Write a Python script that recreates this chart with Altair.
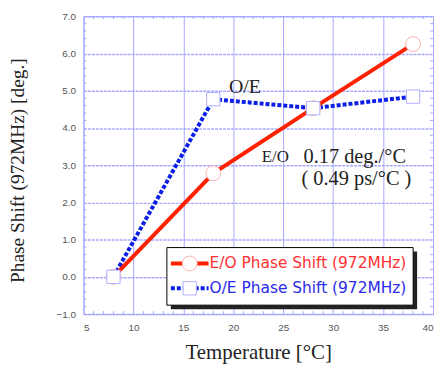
import altair as alt
import pandas as pd

# ---- data ----
temps = [8, 18, 28, 38]
eo_shift = [0.0, 2.78, 4.53, 6.25]
oe_shift = [0.0, 4.77, 4.53, 4.84]
x_ticks = [5, 10, 15, 20, 25, 30, 35, 40]
y_ticks = [-1, 0, 1, 2, 3, 4, 5, 6, 7]
x_minor = [v for v in range(6, 40) if v % 5 != 0]
y_minor = [round(-1 + 0.2 * i, 1) for i in range(1, 40) if i % 5 != 0]

ann_text = ["O/E", "E/O", "0.17 deg./°C", "( 0.49 ps/°C )"]
ann_x = [19.56, 22.85, 27.03, 26.83]
ann_y = [4.95, 3.08, 3.06, 2.47]
ann_fs = [20, 17, 20.5, 20.5]

legend_labels = ["E/O Phase Shift (972MHz)", "O/E Phase Shift (972MHz)"]

eo = pd.DataFrame({"t": temps, "v": eo_shift})
oe = pd.DataFrame({"t": temps, "v": oe_shift})
ann = pd.DataFrame({"x": ann_x, "y": ann_y, "text": ann_text, "fs": ann_fs})
xm = pd.DataFrame({"x": x_minor})
ym = pd.DataFrame({"y": y_minor})
one = pd.DataFrame({"a": [0]})

W, H = 352, 300
RED = "#ff2200"
BLUE = "#0a1ee8"
GRID = "#a8a8ff"

xs = alt.Scale(domain=[5, 40], nice=False, zero=False)
ys = alt.Scale(domain=[-1, 7], nice=False, zero=False)

xaxis = alt.Axis(values=x_ticks, format="d", title="Temperature [°C]",
                 grid=True, gridColor=GRID, gridWidth=1, gridOpacity=1,
                 domain=False, ticks=False, labelPadding=9, labelOverlap=False,
                 labelFont="Liberation Sans", labelFontSize=10, labelColor="#555",
                 titleFont="Liberation Serif", titleFontSize=21, titleFontWeight="normal",
                 titleColor="#222", titleX=176, titleY=45, titleBaseline="alphabetic")
yaxis = alt.Axis(values=y_ticks, format=".1f", title="Phase Shift (972MHz)  [deg.]",
                 grid=True, gridColor=GRID, gridWidth=1.5, gridDash=[3, 1], gridOpacity=1,
                 domain=False, ticks=False, labelPadding=8, labelOverlap=False,
                 labelFont="Liberation Sans", labelFontSize=10, labelColor="#555",
                 titleFont="Liberation Serif", titleFontSize=19.5, titleFontWeight="normal",
                 titleColor="#222", titleX=-60, titleY=155, titleAngle=-90,
                 titleAlign="center", titleBaseline="alphabetic")


def X(f):
    return alt.X(f, scale=xs, axis=xaxis)


def Y(f):
    return alt.Y(f, scale=ys, axis=yaxis)


grid = alt.Chart(eo).mark_point(opacity=0).encode(x=X("t:Q"), y=Y("v:Q"))

# minor ticks pointing inward
xm_bot = alt.Chart(xm).mark_rule(color=GRID, strokeWidth=1).encode(
    x=X("x:Q"), y=alt.value(H), y2=alt.value(H - 3))
xm_top = alt.Chart(xm).mark_rule(color=GRID, strokeWidth=1).encode(
    x=X("x:Q"), y=alt.value(0), y2=alt.value(3))
ym_l = alt.Chart(ym).mark_rule(color=GRID, strokeWidth=1).encode(
    y=Y("y:Q"), x=alt.value(0), x2=alt.value(3))
ym_r = alt.Chart(ym).mark_rule(color=GRID, strokeWidth=1).encode(
    y=Y("y:Q"), x=alt.value(W), x2=alt.value(W - 3))

oe_line = alt.Chart(oe).mark_line(color=BLUE, strokeWidth=4, strokeDash=[4, 2]).encode(
    x=X("t:Q"), y=Y("v:Q"))
eo_line = alt.Chart(eo).mark_line(color=RED, strokeWidth=4).encode(
    x=X("t:Q"), y=Y("v:Q"))
eo_pts = alt.Chart(eo).mark_point(shape="circle", filled=False, fill="white", fillOpacity=1,
                                  stroke="#ffb0b0", strokeWidth=1, size=225, opacity=1).encode(
    x=X("t:Q"), y=Y("v:Q"))
oe_pts = alt.Chart(oe).mark_point(shape="square", filled=False, fill="white", fillOpacity=1,
                                  stroke="#b0b0ff", strokeWidth=1, size=180, opacity=1).encode(
    x=X("t:Q"), y=Y("v:Q"))

texts = alt.Chart(ann).mark_text(font="Liberation Serif", color="#222", align="left",
                                 baseline="alphabetic").encode(
    x=X("x:Q"), y=Y("y:Q"), text="text:N",
    size=alt.Size("fs:Q", scale=None))

# ---- legend box drawn by hand ----
LX0, LX1, LY0, LY1 = 84, 332, 233, 291
shadow = alt.Chart(one).mark_rect(color="#222").encode(
    x=alt.value(LX0 + 4), x2=alt.value(LX1 + 4), y=alt.value(LY0 + 4), y2=alt.value(LY1 + 4))
box = alt.Chart(one).mark_rect(fill="white", stroke="black", strokeWidth=1).encode(
    x=alt.value(LX0), x2=alt.value(LX1), y=alt.value(LY0), y2=alt.value(LY1))
r1y, r2y = 249, 274
leg_eo_line = alt.Chart(one).mark_rule(color=RED, strokeWidth=4).encode(
    x=alt.value(88), x2=alt.value(126), y=alt.value(r1y))
leg_oe_line = alt.Chart(one).mark_rule(color=BLUE, strokeWidth=4, strokeDash=[4, 2]).encode(
    x=alt.value(88), x2=alt.value(126), y=alt.value(r2y))
leg_eo_pt = alt.Chart(one).mark_point(shape="circle", fill="white", fillOpacity=1, stroke="#ffb0b0",
                                      strokeWidth=1, size=225, opacity=1).encode(
    x=alt.value(107), y=alt.value(r1y))
leg_oe_pt = alt.Chart(one).mark_point(shape="square", fill="white", fillOpacity=1, stroke="#b0b0ff",
                                      strokeWidth=1, size=180, opacity=1).encode(
    x=alt.value(107), y=alt.value(r2y))
leg_t1 = alt.Chart(one).mark_text(text=legend_labels[0], font="DejaVu Sans", fontSize=15.5,
                                  color="#ff3030", align="left", baseline="middle").encode(
    x=alt.value(127), y=alt.value(r1y))
leg_t2 = alt.Chart(one).mark_text(text=legend_labels[1], font="DejaVu Sans", fontSize=15.5,
                                  color="#2a2ae8", align="left", baseline="middle").encode(
    x=alt.value(127), y=alt.value(r2y))

chart = alt.layer(
    grid, xm_bot, xm_top, ym_l, ym_r,
    oe_line, eo_line, eo_pts, oe_pts, texts,
    shadow, box, leg_eo_line, leg_oe_line, leg_eo_pt, leg_oe_pt, leg_t1, leg_t2,
).properties(
    width=W, height=H,
    autosize=alt.AutoSizeParams(type="none"),
    padding={"left": 76, "top": 7, "right": 1, "bottom": 49},
    background="white",
).configure_view(stroke="#9999ff", strokeWidth=1)

chart.save("out.html", embed_options={"renderer": "svg", "actions": False})
